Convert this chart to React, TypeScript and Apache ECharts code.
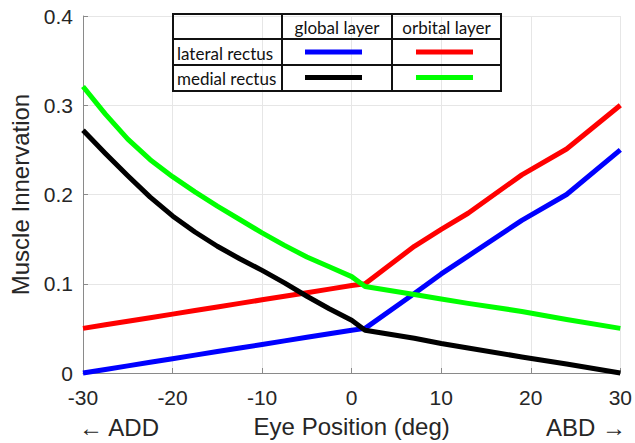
import React, { useEffect, useRef } from "react";
import * as echarts from "echarts";

// Eye position (deg)
const eyePosition = [-30, -27.5, -25, -22.5, -20, -17.5, -15, -12.5, -10, -7.5, -5, -2.5, 0, 1.5, 7, 10, 13, 19, 24, 30];

// Muscle innervation
const lateralGlobal = [0, 0.004, 0.008, 0.012, 0.016, 0.020, 0.024, 0.028, 0.032, 0.036, 0.040, 0.044, 0.048, 0.050, 0.089, 0.111, 0.131, 0.171, 0.200, 0.250];
const lateralOrbital = [0.050, 0.054, 0.058, 0.062, 0.066, 0.070, 0.074, 0.078, 0.082, 0.086, 0.090, 0.094, 0.098, 0.100, 0.142, 0.161, 0.179, 0.222, 0.251, 0.300];
const medialGlobal = [0.272, 0.246, 0.221, 0.197, 0.176, 0.158, 0.142, 0.128, 0.115, 0.101, 0.086, 0.072, 0.059, 0.048, 0.039, 0.033, 0.028, 0.018, 0.010, 0];
const medialOrbital = [0.321, 0.290, 0.262, 0.239, 0.220, 0.203, 0.187, 0.172, 0.157, 0.143, 0.130, 0.119, 0.108, 0.097, 0.088, 0.083, 0.078, 0.069, 0.060, 0.050];

const xTicks = { min: -30, max: 30, interval: 10 };
const yTicks = { min: 0, max: 0.4, interval: 0.1 };

const tableColumns = ["global layer", "orbital layer"];
const tableRows = ["lateral rectus", "medial rectus"];

const seriesDefs = [
  { name: "lateral rectus global layer", data: lateralGlobal, color: "#0000ff" },
  { name: "lateral rectus orbital layer", data: lateralOrbital, color: "#ff0000" },
  { name: "medial rectus global layer", data: medialGlobal, color: "#000000" },
  { name: "medial rectus orbital layer", data: medialOrbital, color: "#00ff00" },
];

export default function App() {
  const ref = useRef<HTMLDivElement>(null);
  useEffect(() => {
    if (!ref.current) return;
    const chart = echarts.init(ref.current, null, { renderer: "svg" });
    const font = "'Liberation Sans', Arial, sans-serif";
    const tFont = "Lato, 'Open Sans', sans-serif";
    const axisColor = "#8a8a8a";
    const textColor = "#262626";

    // table geometry
    const tx0 = 173, tx1 = 501, ty0 = 14, ty1 = 91;
    const rowY = [39, 65];
    const colX = [282, 392];
    const sampleX = [[305, 362], [416, 473]];
    const sampleY = [52, 77.5];

    const graphic: any[] = [
      { type: "rect", shape: { x: tx0, y: ty0, width: tx1 - tx0, height: ty1 - ty0 }, style: { fill: "none", stroke: "#111", lineWidth: 2 }, z: 100 },
      ...rowY.map((y) => ({ type: "line", shape: { x1: tx0, y1: y, x2: tx1, y2: y }, style: { stroke: "#111", lineWidth: 2 }, z: 100 })),
      ...colX.map((x) => ({ type: "line", shape: { x1: x, y1: ty0, x2: x, y2: ty1 }, style: { stroke: "#111", lineWidth: 2 }, z: 100 })),
      ...tableColumns.map((t, i) => ({
        type: "text", x: (i === 0 ? (colX[0] + colX[1]) / 2 : (colX[1] + tx1) / 2), y: (ty0 + rowY[0]) / 2 + 1, z: 100,
        style: { text: t, fill: "#111", font: `17px ${tFont}`, align: "center", verticalAlign: "middle" },
      })),
      ...tableRows.map((t, i) => ({
        type: "text", x: tx0 + 4, y: sampleY[i] + 1, z: 100,
        style: { text: t, fill: "#111", font: `17px ${tFont}`, align: "left", verticalAlign: "middle" },
      })),
      ...seriesDefs.map((s, i) => {
        const r = Math.floor(i / 2), c = i % 2;
        return { type: "line", z: 100, shape: { x1: sampleX[c][0], y1: sampleY[r], x2: sampleX[c][1], y2: sampleY[r] }, style: { stroke: s.color, lineWidth: 5 } };
      }),
      { type: "text", x: 79, y: 427, style: { text: "\u2190 ADD", fill: textColor, font: `24px ${font}`, align: "left", verticalAlign: "middle" } },
      { type: "text", x: 626, y: 427, style: { text: "ABD \u2192", fill: textColor, font: `24px ${font}`, align: "right", verticalAlign: "middle" } },
    ];

    chart.setOption({
      animation: false,
      backgroundColor: "#ffffff",
      grid: { left: 83, right: 13, top: 16, bottom: 69, containLabel: false },
      xAxis: {
        type: "value",
        min: xTicks.min, max: xTicks.max, interval: xTicks.interval,
        name: "Eye Position (deg)", nameLocation: "middle", nameGap: 41,
        nameTextStyle: { fontFamily: font, fontSize: 24, color: textColor },
        axisLine: { show: true, onZero: false, lineStyle: { color: axisColor, width: 1 } },
        axisTick: { show: true, inside: true, length: 5, lineStyle: { color: axisColor } },
        axisLabel: { fontFamily: font, fontSize: 21, color: textColor, margin: 14 },
        splitLine: { show: true, lineStyle: { color: "#e6e6e6", width: 1 } },
      },
      yAxis: {
        type: "value",
        min: yTicks.min, max: yTicks.max, interval: yTicks.interval,
        name: "Muscle Innervation", nameLocation: "middle", nameGap: 48,
        nameTextStyle: { fontFamily: font, fontSize: 24, color: textColor },
        axisLine: { show: true, onZero: false, lineStyle: { color: axisColor, width: 1 } },
        axisTick: { show: true, inside: true, length: 5, lineStyle: { color: axisColor } },
        axisLabel: { fontFamily: font, fontSize: 21, color: textColor, margin: 10, formatter: (v: number) => String(Math.round(v * 10) / 10) },
        splitLine: { show: true, lineStyle: { color: "#e6e6e6", width: 1 } },
      },
      series: seriesDefs.map((s) => ({
        type: "line",
        name: s.name,
        data: eyePosition.map((x, i) => [x, s.data[i]]),
        showSymbol: false,
        symbol: "none",
        lineStyle: { color: s.color, width: 5, cap: "butt", join: "round" },
        itemStyle: { color: s.color },
        clip: false,
      })),
      graphic,
    });
    return () => chart.dispose();
  }, []);
  return <div ref={ref} style={{ position: "fixed", left: 0, top: 0, width: 635, height: 443 }} />;
}
